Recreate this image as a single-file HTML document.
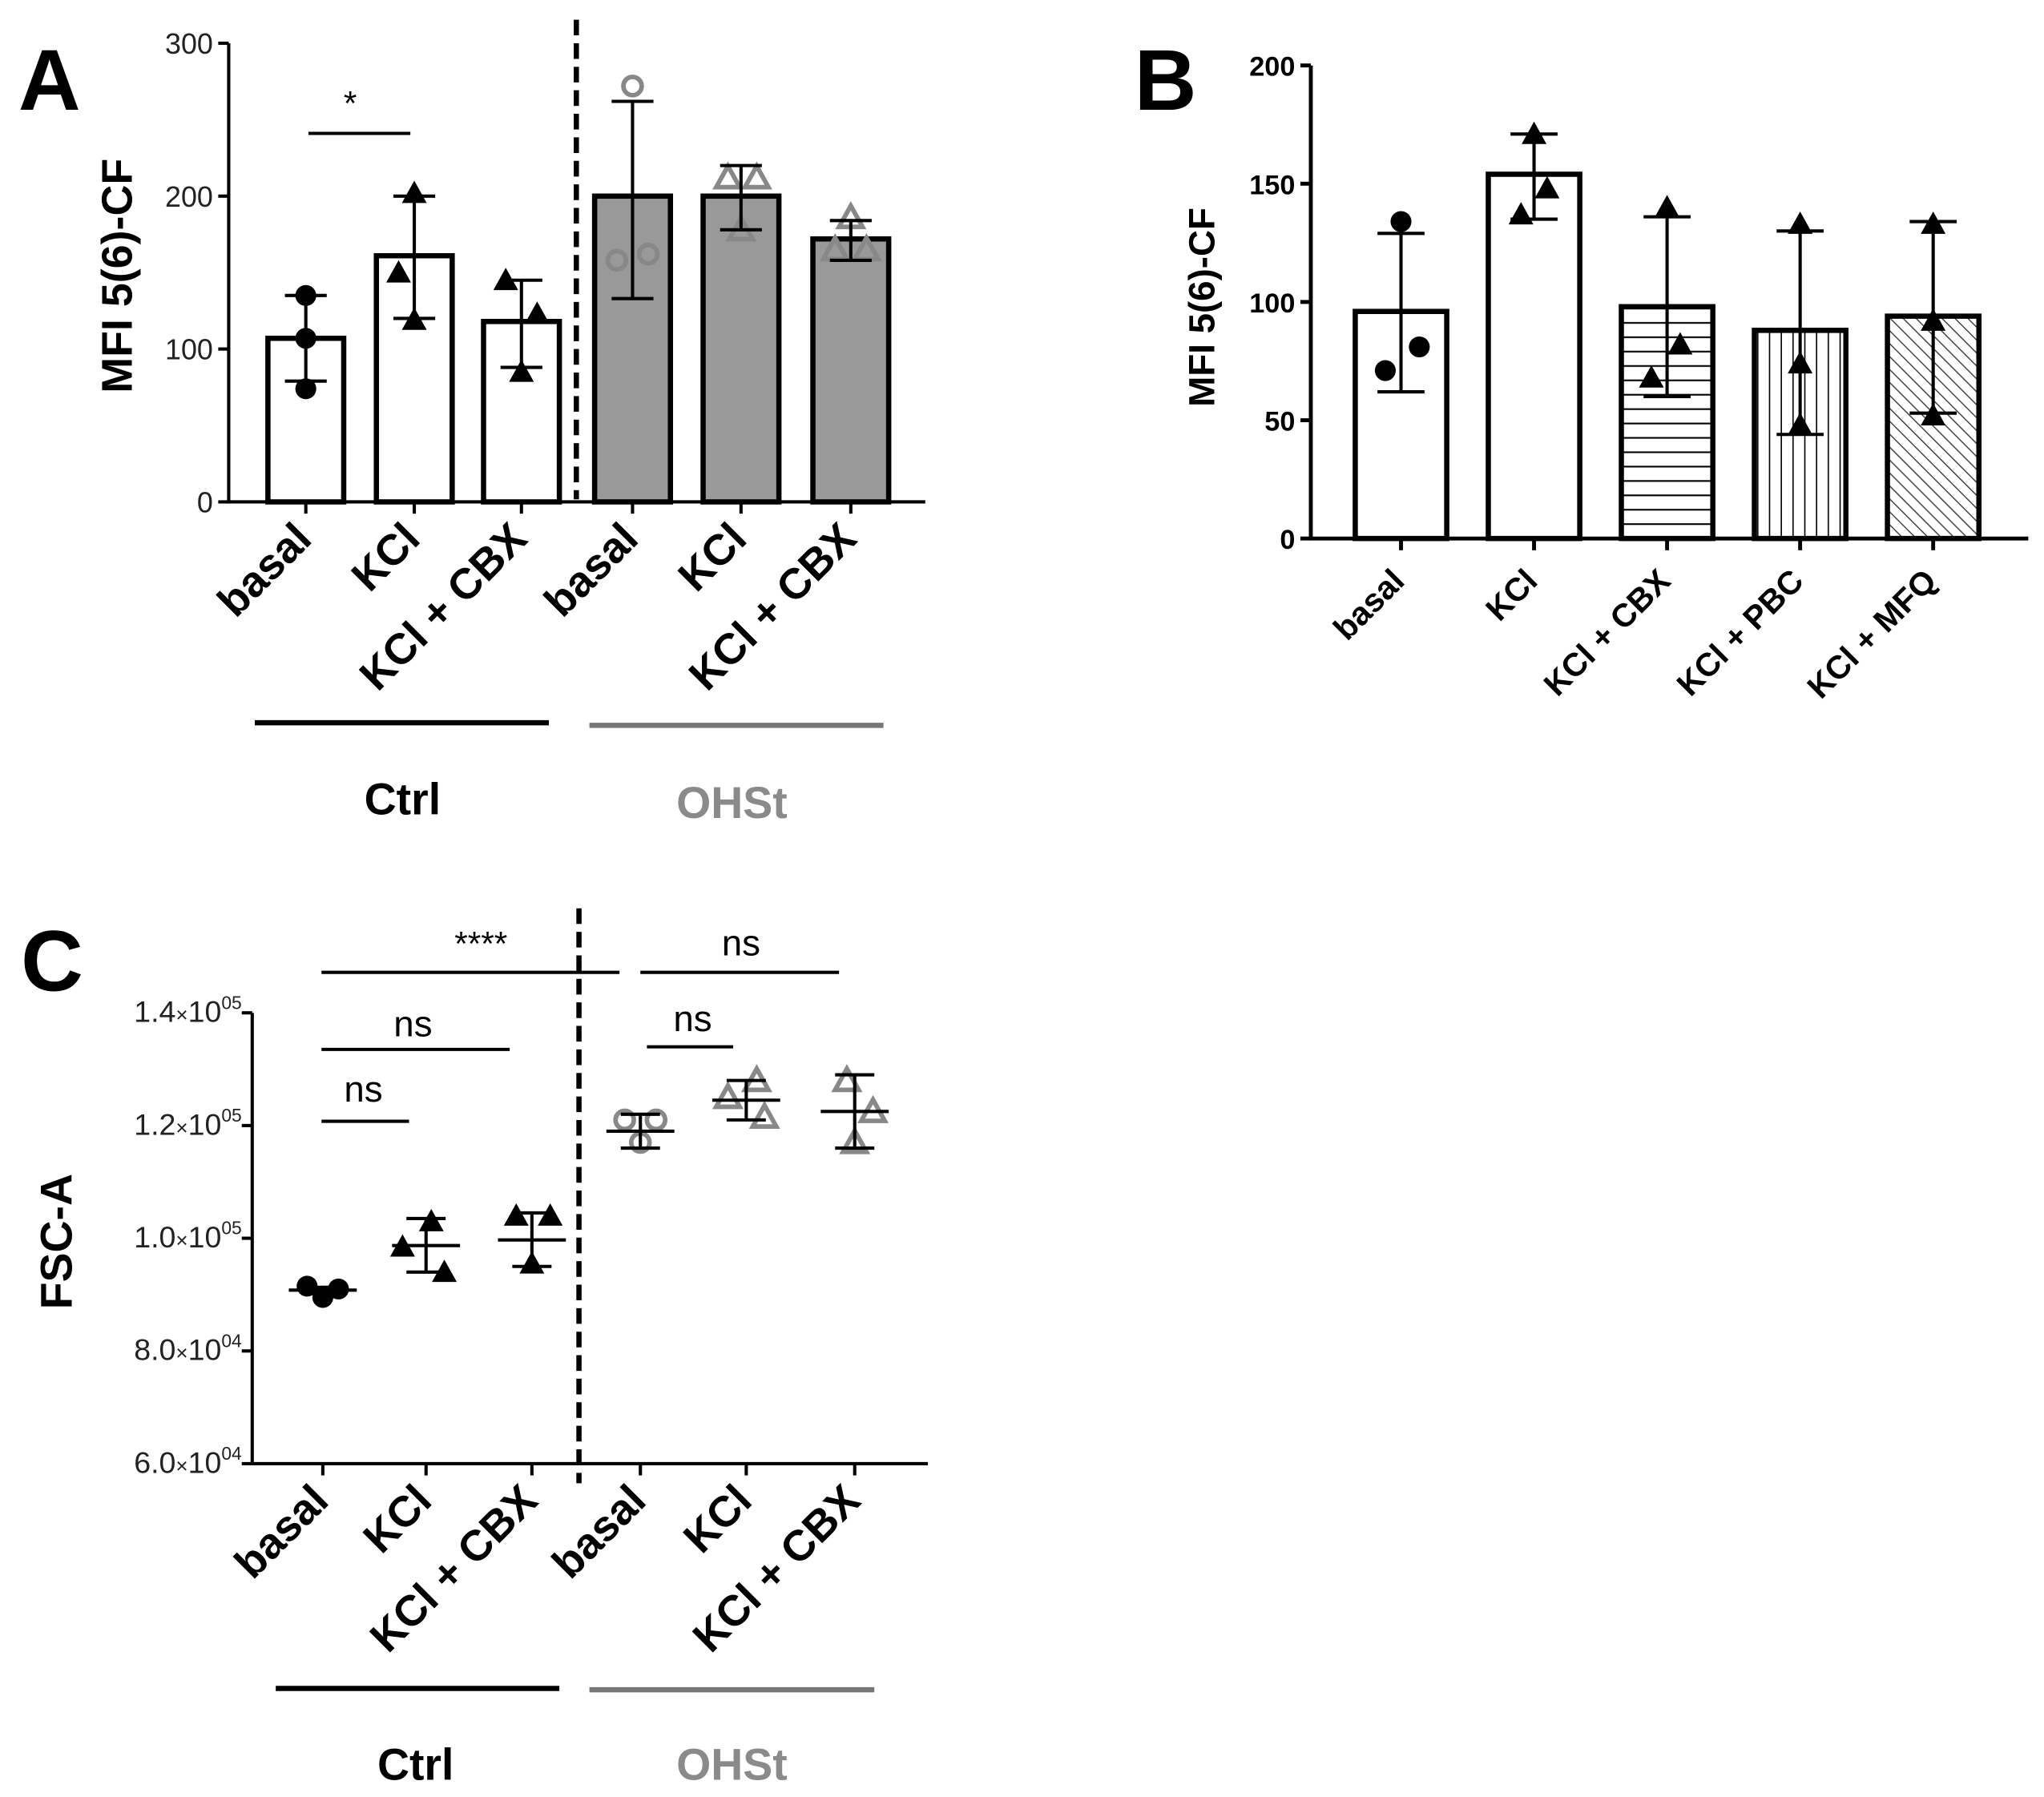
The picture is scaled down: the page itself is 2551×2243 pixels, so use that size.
<!DOCTYPE html>
<html><head><meta charset="utf-8"><style>
html,body{margin:0;padding:0;background:#fff}
svg{display:block}
text{font-family:"Liberation Sans",Arial,sans-serif}
</style></head><body>
<svg id="fig" width="2551" height="2243" viewBox="0 0 1564 1375" xmlns="http://www.w3.org/2000/svg">
<defs>
<pattern id="hpat" width="8" height="11" patternUnits="userSpaceOnUse"><line x1="0" y1="5" x2="8" y2="5" stroke="#000" stroke-width="1.3"/></pattern>
<pattern id="vpat" width="9" height="8" patternUnits="userSpaceOnUse"><line x1="4" y1="0" x2="4" y2="8" stroke="#000" stroke-width="1"/></pattern>
<pattern id="dpat" width="7" height="7" patternUnits="userSpaceOnUse" patternTransform="rotate(-45)"><line x1="3.5" y1="0" x2="3.5" y2="7" stroke="#444" stroke-width="0.9"/></pattern>
</defs>
</svg>
<script>
// ---- Panel A data ----
const aCats = ["basal","KCl","KCl + CBX","basal","KCl","KCl + CBX"];
const aMeans = [107,161,118,200,200,172];
const aErrHi = [135,200,145,262,220,184];
const aErrLo = [79,120,88,133,178,158];
const aPoints = [[135,107,74],[202,150,119],[145,123,85],[272,158,162],[212,212,178],[186,165,165]];
const aTicks = [0,100,200,300];
// ---- Panel B data ----
const bCats = ["basal","KCl","KCl + CBX","KCl + PBC","KCl + MFQ"];
const bMeans = [96,154,98,88,94];
const bErrHi = [129,171,136,130,134];
const bErrLo = [62,135,60,44,53];
const bPoints = [[134,81,71],[171,148,137],[140,82,68],[133,74,48],[133,92,52]];
const bTicks = [0,50,100,150,200];
// ---- Panel C data ----
const cCats = ["basal","KCl","KCl + CBX","basal","KCl","KCl + CBX"];
const cMeans = [90800,98700,99700,119000,124500,122500];
const cErrHi = [91300,103500,104500,122000,128000,129000];
const cErrLo = [90300,94000,95000,116000,121000,116000];
const cPoints = [[91500,91000,89500],[103000,98500,94000],[104000,104000,95500],[121000,121000,117000],[128000,125000,121500],[128000,122500,117000]];
const cTickMant = ["6.0","8.0","1.0","1.2","1.4"];
const cTickExp = ["04","04","05","05","05"];
const cTicks = [60000,80000,100000,120000,140000];

const NS="http://www.w3.org/2000/svg";
const svg=document.getElementById('fig');
function mk(tag,attrs,parent){const e=document.createElementNS(NS,tag);for(const k in attrs)e.setAttribute(k,attrs[k]);(parent||svg).appendChild(e);return e;}
function txt(s,attrs,parent){const e=mk('text',attrs,parent);e.textContent=s;return e;}

function marker(g,shape,x,y,color,open){
  let e;
  if(shape==='circle'){e=mk('circle',{cx:x,cy:y,r:open?7:8,fill:open?'none':color,stroke:color,'stroke-width':open?3.5:0},g);}
  else{const s=open?9:9.5;e=mk('polygon',{points:`${x},${y-s} ${x+s},${y+s*0.8} ${x-s},${y+s*0.8}`,fill:open?'none':color,stroke:color,'stroke-width':open?3.5:0},g);}
  
  
}

// ================= PANEL A =================
(function(){
  const g=mk('g',{});
  const x0=175,x1=708,yTop=33,yBot=384,vmax=300;
  const ys=v=>yBot-(v/vmax)*(yBot-yTop);
  const xs=i=>[234,317,399,484,567,651][i];
  txt('A',{x:14,y:84,'font-size':66,'font-weight':'bold'},g);
  aMeans.forEach((m,i)=>{const r=mk('rect',{x:xs(i)-29,y:ys(m),width:58,height:yBot-ys(m),fill:i>2?'#999':'#fff',stroke:'#000','stroke-width':4},g);
    });
  const ax=mk('path',{d:`M${x0},${yTop}V${yBot}H${x1}`,fill:'none',stroke:'#000','stroke-width':2.5},g);
  aTicks.forEach(t=>{mk('line',{x1:x0-8,x2:x0,y1:ys(t),y2:ys(t),stroke:'#000','stroke-width':2.5},g);
    const l=txt(String(t),{x:x0-12,y:ys(t)+8,'text-anchor':'end','font-size':22,fill:'#222'},g);});
  aCats.forEach((c,i)=>{mk('line',{x1:xs(i),x2:xs(i),y1:yBot,y2:yBot+9,stroke:'#000','stroke-width':2.5},g);
    const l=txt(c,{x:xs(i)+6,y:yBot+30,'text-anchor':'end','font-size':33,'font-weight':'bold',transform:`rotate(-45 ${xs(i)+6} ${yBot+30})`},g);});
  const offs=[[0,0,0],[0,-12,0],[-12,12,0],[0,-12,12],[-10,12,0],[0,-12,12]];
  aMeans.forEach((m,i)=>{const col=i>2?'#888':'#000';const open=i>2;const sh=(i%3===0)?'circle':'tri';
    aPoints[i].forEach((v,j)=>marker(g,sh,xs(i)+offs[i][j],ys(v),col,open));
    const e=mk('path',{d:`M${xs(i)},${ys(aErrHi[i])}V${ys(aErrLo[i])}M${xs(i)-16},${ys(aErrHi[i])}h32M${xs(i)-16},${ys(aErrLo[i])}h32`,stroke:'#000','stroke-width':2.5,fill:'none'},g);
    });
  const d=mk('line',{x1:441,x2:441,y1:15,y2:382,stroke:'#000','stroke-width':4,'stroke-dasharray':'12,6'},g);
  mk('line',{x1:236,x2:314,y1:102,y2:102,stroke:'#000','stroke-width':2.5},g);
  txt('*',{x:268,y:88,'text-anchor':'middle','font-size':26},g);
  txt('MFI 5(6)-CF',{x:0,y:0,'text-anchor':'middle','font-size':33,'font-weight':'bold',transform:'translate(101 211) rotate(-90)'},g);
  mk('line',{x1:195,x2:420,y1:553,y2:553,stroke:'#000','stroke-width':4},g);
  mk('line',{x1:451,x2:676,y1:555,y2:555,stroke:'#777','stroke-width':4},g);
  txt('Ctrl',{x:308,y:623,'text-anchor':'middle','font-size':34,'font-weight':'bold'},g);
  txt('OHSt',{x:560,y:626,'text-anchor':'middle','font-size':34,'font-weight':'bold',fill:'#8a8a8a'},g);
})();

// ================= PANEL B =================
(function(){
  const g=mk('g',{});
  const x0=1003,x1=1552,yTop=50,yBot=412,vmax=200;
  const ys=v=>yBot-(v/vmax)*(yBot-yTop);
  const xs=i=>1072+i*101.8;
  const fills=['#fff','#fff','url(#hpat)','url(#vpat)','url(#dpat)'];
  txt('B',{x:868,y:84,'font-size':66,'font-weight':'bold'},g);
  bMeans.forEach((m,i)=>{mk('rect',{x:xs(i)-35,y:ys(m),width:70,height:yBot-ys(m),fill:'#fff'},g);
    const r=mk('rect',{x:xs(i)-35,y:ys(m),width:70,height:yBot-ys(m),fill:fills[i],stroke:'#000','stroke-width':4},g);
    });
  const ax=mk('path',{d:`M${x0},${yTop}V${yBot}H${x1}`,fill:'none',stroke:'#000','stroke-width':3},g);
  bTicks.forEach(t=>{mk('line',{x1:x0-8,x2:x0,y1:ys(t),y2:ys(t),stroke:'#000','stroke-width':3},g);
    const l=txt(String(t),{x:x0-12,y:ys(t)+8,'text-anchor':'end','font-size':21,'font-weight':'bold'},g);});
  bCats.forEach((c,i)=>{mk('line',{x1:xs(i),x2:xs(i),y1:yBot,y2:yBot+9,stroke:'#000','stroke-width':3},g);
    const l=txt(c,{x:xs(i)+4,y:yBot+34,'text-anchor':'end','font-size':25,'font-weight':'bold',transform:`rotate(-45 ${xs(i)+4} ${yBot+34})`},g);});
  const offs=[[0,14,-12],[0,10,-10],[0,10,-12],[0,0,0],[0,0,0]];
  bMeans.forEach((m,i)=>{
    bPoints[i].forEach((v,j)=>marker(g,i===0?'circle':'tri',xs(i)+offs[i][j],ys(v),'#000',false));
    const e=mk('path',{d:`M${xs(i)},${ys(bErrHi[i])}V${ys(bErrLo[i])}M${xs(i)-18},${ys(bErrHi[i])}h36M${xs(i)-18},${ys(bErrLo[i])}h36`,stroke:'#000','stroke-width':2.5,fill:'none'},g);
    });
  txt('MFI 5(6)-CF',{x:0,y:0,'text-anchor':'middle','font-size':28,'font-weight':'bold',transform:'translate(929 235) rotate(-90)'},g);
})();

// ================= PANEL C =================
(function(){
  const g=mk('g',{});
  const x0=193,x1=710,yTop=775,yBot=1120,vmin=60000,vmax=140000;
  const ys=v=>yBot-((v-vmin)/(vmax-vmin))*(yBot-yTop);
  const xs=i=>[247,326,407,490,571,654][i];
  txt('C',{x:16,y:758,'font-size':66,'font-weight':'bold'},g);
  const ax=mk('path',{d:`M${x0},${yTop}V${yBot}H${x1}`,fill:'none',stroke:'#000','stroke-width':2.5},g);
  cTicks.forEach((t,k)=>{mk('line',{x1:x0-8,x2:x0,y1:ys(t),y2:ys(t),stroke:'#000','stroke-width':2.5},g);
    const l=txt('',{x:x0-8,y:ys(t)+7,'text-anchor':'end','font-size':23,fill:'#222'},g);
    l.innerHTML=cTickMant[k]+'<tspan font-size="16">×</tspan>10<tspan font-size="14" dy="-10">'+cTickExp[k]+'</tspan>';
    });
  cCats.forEach((c,i)=>{mk('line',{x1:xs(i),x2:xs(i),y1:yBot,y2:yBot+9,stroke:'#000','stroke-width':2.5},g);
    const l=txt(c,{x:xs(i)+6,y:yBot+30,'text-anchor':'end','font-size':33,'font-weight':'bold',transform:`rotate(-45 ${xs(i)+6} ${yBot+30})`},g);});
  const offs=[[-12,12,0],[4,-18,14],[-12,14,0],[-12,12,0],[8,-14,14],[-6,14,0]];
  cMeans.forEach((m,i)=>{const col=i>2?'#888':'#000';const open=i>2;const sh=(i%3===0)?'circle':'tri';
    cPoints[i].forEach((v,j)=>marker(g,sh,xs(i)+offs[i][j],ys(v),col,open));
    const e=mk('path',{d:`M${xs(i)},${ys(cErrHi[i])}V${ys(cErrLo[i])}M${xs(i)-15},${ys(cErrHi[i])}h30M${xs(i)-15},${ys(cErrLo[i])}h30M${xs(i)-26},${ys(m)}h52`,stroke:'#000','stroke-width':2.5,fill:'none'},g);
    });
  const d=mk('line',{x1:443,x2:443,y1:695,y2:1135,stroke:'#000','stroke-width':4,'stroke-dasharray':'12,6'},g);
  const sig=[[246,474,744,'****',368,731],[490,642,744,'ns',567,731],[246,390,803,'ns',316,793],[246,313,858,'ns',278,843],[495,561,801,'ns',530,789]];
  sig.forEach(s=>{mk('line',{x1:s[0],x2:s[1],y1:s[2],y2:s[2],stroke:'#000','stroke-width':2.5},g);
    txt(s[3],{x:s[4],y:s[5],'text-anchor':'middle','font-size':s[3]==='ns'?28:26},g);});
  txt('FSC-A',{x:0,y:0,'text-anchor':'middle','font-size':34,'font-weight':'bold',transform:'translate(55 950) rotate(-90)'},g);
  mk('line',{x1:211,x2:428,y1:1292,y2:1292,stroke:'#000','stroke-width':4},g);
  mk('line',{x1:451,x2:669,y1:1293,y2:1293,stroke:'#777','stroke-width':4},g);
  txt('Ctrl',{x:318,y:1362,'text-anchor':'middle','font-size':34,'font-weight':'bold'},g);
  txt('OHSt',{x:560,y:1362,'text-anchor':'middle','font-size':34,'font-weight':'bold',fill:'#8a8a8a'},g);
})();
</script>
</body></html>
